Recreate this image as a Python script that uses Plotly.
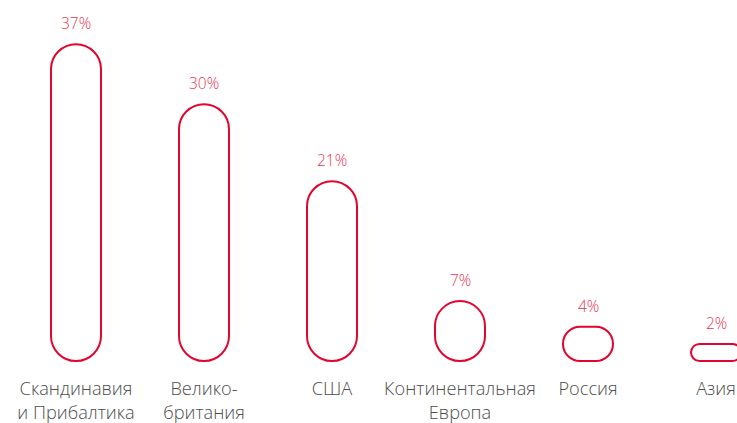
import plotly.graph_objects as go

# ---- data ----
categories = ["Скандинавия<br>и Прибалтика", "Велико-<br>британия", "США",
              "Континентальная<br>Европа", "Россия", "Азия"]
values = [37, 30, 21, 7, 4, 2]
value_labels = ["37%", "30%", "21%", "7%", "4%", "2%"]

# ---- layout constants ----
W, H = 737, 423
M_L, M_R, M_T, M_B = 0, 0, 0, 55
X_RANGE = [-0.59375, 5.1640625]
Y_RANGE = [-0.818, 42.17]
BAR_PX = 50            # pill width in pixels
RED = "#e0062e"
LABEL_RED = "#e63552"
FONT = "Open Sans"

plot_w = W - M_L - M_R
plot_h = H - M_T - M_B
px_x = plot_w / (X_RANGE[1] - X_RANGE[0])   # pixels per x unit
px_y = plot_h / (Y_RANGE[1] - Y_RANGE[0])   # pixels per y unit


def pill_path(xc, v):
    """Rounded (pill) outline from 0 to v, converted through axis scales."""
    hw = (BAR_PX / 2) / px_x
    h_px = v * px_y
    r_px = min(BAR_PX / 2, h_px / 2)
    rx, ry = r_px / px_x, r_px / px_y
    k = 0.5523
    x0, x1 = xc - hw, xc + hw
    y0, y1 = 0.0, float(v)
    p = [
        f"M {x0},{y0 + ry}",
        f"L {x0},{y1 - ry}",
        f"C {x0},{y1 - ry + k * ry} {x0 + rx - k * rx},{y1} {x0 + rx},{y1}",
        f"L {x1 - rx},{y1}",
        f"C {x1 - rx + k * rx},{y1} {x1},{y1 - ry + k * ry} {x1},{y1 - ry}",
        f"L {x1},{y0 + ry}",
        f"C {x1},{y0 + ry - k * ry} {x1 - rx + k * rx},{y0} {x1 - rx},{y0}",
        f"L {x0 + rx},{y0}",
        f"C {x0 + rx - k * rx},{y0} {x0},{y0 + ry - k * ry} {x0},{y0 + ry}",
        "Z",
    ]
    return " ".join(p)


x_pos = list(range(len(categories)))

fig = go.Figure()

# invisible carrier trace so the axes are data-driven
fig.add_trace(go.Scatter(x=x_pos, y=values, mode="markers",
                         marker=dict(size=1, opacity=0), hoverinfo="skip",
                         showlegend=False))

shapes = []
for xi, v in zip(x_pos, values):
    shapes.append(dict(type="path", xref="x", yref="y", path=pill_path(xi, v),
                       line=dict(color=RED, width=2), fillcolor="rgba(0,0,0,0)",
                       layer="above"))

annotations = []
for xi, v, lab in zip(x_pos, values, value_labels):
    annotations.append(dict(x=xi, y=v, xref="x", yref="y", text=lab,
                            showarrow=False, yanchor="middle", yshift=21,
                            font=dict(family=FONT, size=15.5, color=LABEL_RED,
                                      weight=300)))

fig.update_layout(
    width=W, height=H,
    margin=dict(l=M_L, r=M_R, t=M_T, b=M_B, autoexpand=False),
    plot_bgcolor="white", paper_bgcolor="white",
    shapes=shapes, annotations=annotations,
    showlegend=False,
    xaxis=dict(range=X_RANGE, tickmode="array", tickvals=x_pos, ticktext=categories,
               showgrid=False, zeroline=False, showline=False, ticks="",
               tickfont=dict(family=FONT, size=18.2, color="#4d4d4d", weight=300),
               ticklabelstandoff=8, automargin=False, fixedrange=True),
    yaxis=dict(range=Y_RANGE, showgrid=False, zeroline=False, showline=False,
               showticklabels=False, ticks="", automargin=False, fixedrange=True),
)

fig.write_html("out.html",
               config={"displayModeBar": False},
               post_script="document.body.style.margin='0';"
                           "document.documentElement.style.overflow='hidden';")
